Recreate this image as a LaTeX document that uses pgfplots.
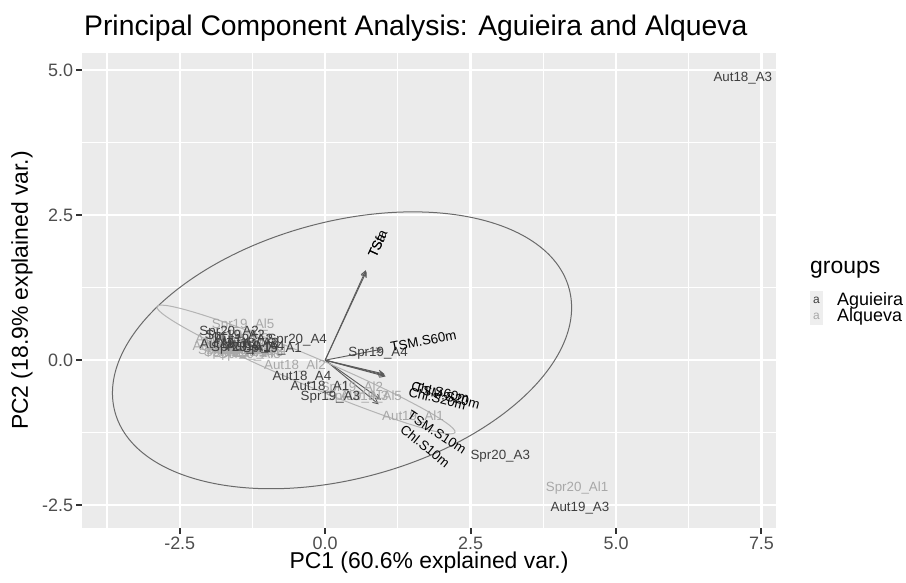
\documentclass[border=0pt]{standalone}
\usepackage{pgfplots}
\pgfplotsset{compat=1.18}
\usepackage{pgfplotstable}
\usepackage{fontspec}
\setmainfont{Liberation Sans}
\usetikzlibrary{arrows.meta}

\definecolor{panelbg}{HTML}{EBEBEB}
\definecolor{tickcol}{HTML}{333333}
\definecolor{ticklab}{HTML}{4D4D4D}
\definecolor{aguieira}{HTML}{3F3F3F}
\definecolor{alqueva}{HTML}{A8A8A8}
\definecolor{agell}{HTML}{6A6A6A}
\definecolor{alell}{HTML}{B4B4B4}
\definecolor{arrowcol}{HTML}{5A5A5A}
\definecolor{keybg}{HTML}{EEEEEE}

\newcommand\titlefont{\fontsize{28.4}{30}\selectfont}
\newcommand\axtitlefont{\fontsize{23}{25}\selectfont}
\newcommand\tickfont{\fontsize{18}{20}\selectfont}
\newcommand\legtextfont{\fontsize{18}{20}\selectfont}
\newcommand\ptfont{\fontsize{13.4}{15}\selectfont}

% PCA scores, Aguieira samples
\pgfplotstableread{
x y label
-0.09 -0.47 Aut18\_A1
-1.30 0.28 Aut18\_A2
7.18 4.86 Aut18\_A3
-0.40 -0.29 Aut18\_A4
-0.91 0.19 Spr19\_A1
-1.55 0.42 Spr19\_A2
0.09 -0.64 Spr19\_A3
0.91 0.12 Spr19\_A4
-1.65 0.25 Aut19\_A1
-1.40 0.35 Aut19\_A2
4.38 -2.55 Aut19\_A3
-1.20 0.22 Aut19\_A4
-1.45 0.20 Spr20\_A1
-1.65 0.48 Spr20\_A2
3.01 -1.66 Spr20\_A3
-0.48 0.34 Spr20\_A4
}\aguieiratab

% PCA scores, Alqueva samples
\pgfplotstableread{
x y label
-1.75 0.22 Aut18\_Al1
-0.52 -0.10 Aut18\_Al2
-1.50 0.15 Aut18\_Al3
-1.60 0.30 Aut18\_Al4
-1.35 0.18 Aut18\_Al5
-1.55 0.12 Spr19\_Al1
0.46 -0.48 Spr19\_Al2
0.55 -0.64 Spr19\_Al3
-1.40 0.10 Spr19\_Al4
-1.41 0.60 Spr19\_Al5
1.51 -0.98 Aut19\_Al1
-1.70 0.35 Aut19\_Al2
-1.25 0.12 Aut19\_Al3
-1.45 0.25 Aut19\_Al4
0.79 -0.64 Aut19\_Al5
4.33 -2.20 Spr20\_Al1
-1.65 0.15 Spr20\_Al2
-1.30 0.08 Spr20\_Al3
-1.20 0.15 Spr20\_Al4
-1.50 0.42 Spr20\_Al5
}\alquevatab

% variable name positions and text angles
\pgfplotstableread{
x y ang label
0.90 2.00 65.5 TSfa
0.89 1.97 65.5 TSa
1.69 0.33 11 TSM.S60m
1.98 -0.55 -13 Chl.S60m
2.10 -0.62 -15 TSM.S20m
1.93 -0.66 -14 Chl.S20m
1.92 -1.24 -33 TSM.S10m
1.72 -1.48 -39 Chl.S10m
}\varlabels

\begin{document}
\begin{tikzpicture}
\useasboundingbox (-82bp,-55bp) rectangle (824bp,528bp);
\begin{axis}[
  at={(0,0)}, anchor=south west,
  scale only axis, width=694bp, height=475bp,
  xmin=-4.18, xmax=7.75, ymin=-2.89, ymax=5.29,
  axis background/.style={fill=panelbg},
  axis line style={draw=none},
  xtick={-2.5,0,2.5,5,7.5}, ytick={-2.5,0,2.5,5},
  xticklabels={-2.5,0.0,2.5,5.0,7.5}, yticklabels={-2.5,0.0,2.5,5.0},
  minor xtick={-3.75,-1.25,1.25,3.75,6.25}, minor ytick={-1.25,1.25,3.75},
  grid=both,
  major grid style={white, line width=2.2bp},
  minor grid style={white, line width=1.1bp},
  tick pos=left, tick align=outside,
  major tick length=5.5bp, minor tick length=0pt,
  major tick style={tickcol, line width=2bp},
  ticklabel style={font=\tickfont, text=ticklab},
]
% loading arrows
\pgfplotsset{loading/.style={arrowcol, line width=0.9bp, -{Straight Barb[length=5bp,width=5bp]}}}
\addplot[loading] coordinates {(0,0) (0.70,1.55)};
\addplot[loading] coordinates {(0,0) (0.71,1.53)};
\addplot[loading] coordinates {(0,0) (0.98,0.19)};
\addplot[loading] coordinates {(0,0) (1.02,-0.24)};
\addplot[loading] coordinates {(0,0) (1.04,-0.28)};
\addplot[loading] coordinates {(0,0) (1.03,-0.26)};
\addplot[loading] coordinates {(0,0) (0.96,-0.68)};
\addplot[loading] coordinates {(0,0) (0.92,-0.76)};

% sample labels
\addplot[only marks, mark=none, color=alqueva, nodes near coords, point meta=explicit symbolic,
  every node near coord/.append style={anchor=center, font=\ptfont, text=alqueva}]
  table[x=x, y=y, meta=label] {\alquevatab};
\addplot[only marks, mark=none, color=aguieira, nodes near coords, point meta=explicit symbolic,
  every node near coord/.append style={anchor=center, font=\ptfont, text=aguieira}]
  table[x=x, y=y, meta=label] {\aguieiratab};

% 68% normal ellipses of the two groups
\draw[agell, line width=1bp, rotate around={15.2:(axis cs:0.29,0.17)}]
  (axis cs:0.29,0.17) ellipse [x radius=235.3bp, y radius=128.4bp];
\draw[alell, line width=1bp, rotate around={-22.9:(axis cs:-0.33,-0.16)}]
  (axis cs:-0.33,-0.16) ellipse [x radius=161.8bp, y radius=14.5bp];

% variable names
\addplot[only marks, mark=none, color=black, nodes near coords, point meta=explicit symbolic,
  visualization depends on={\thisrow{ang} \as \labang},
  every node near coord/.append style={anchor=center, rotate=\labang, font=\ptfont, text=black}]
  table[x=x, y=y, meta=label] {\varlabels};
\end{axis}

% titles
\node[anchor=base west, inner sep=0pt, font=\titlefont] at (2bp,492bp) {Principal Component Analysis: Aguieira and Alqueva};
\node[font=\axtitlefont] at (347bp,-35bp) {PC1 (60.6\% explained var.)};
\node[font=\axtitlefont, rotate=90] at (-60bp,237.5bp) {PC2 (18.9\% explained var.)};

% legend
\node[anchor=west, inner sep=0pt, font=\axtitlefont] at (728bp,258bp) {groups};
\fill[keybg] (728bp,219bp) rectangle (741bp,237bp);
\fill[keybg] (728bp,203bp) rectangle (741bp,219bp);
\node[inner sep=0pt, font=\fontsize{12}{12}\selectfont, text=aguieira] at (734.5bp,228bp) {a};
\node[inner sep=0pt, font=\fontsize{12}{12}\selectfont, text=alqueva] at (734.5bp,211.5bp) {a};
\node[anchor=west, inner sep=0pt, font=\legtextfont] at (755bp,227.3bp) {Aguieira};
\node[anchor=west, inner sep=0pt, font=\legtextfont] at (755bp,211bp) {Alqueva};
\end{tikzpicture}
\end{document}
